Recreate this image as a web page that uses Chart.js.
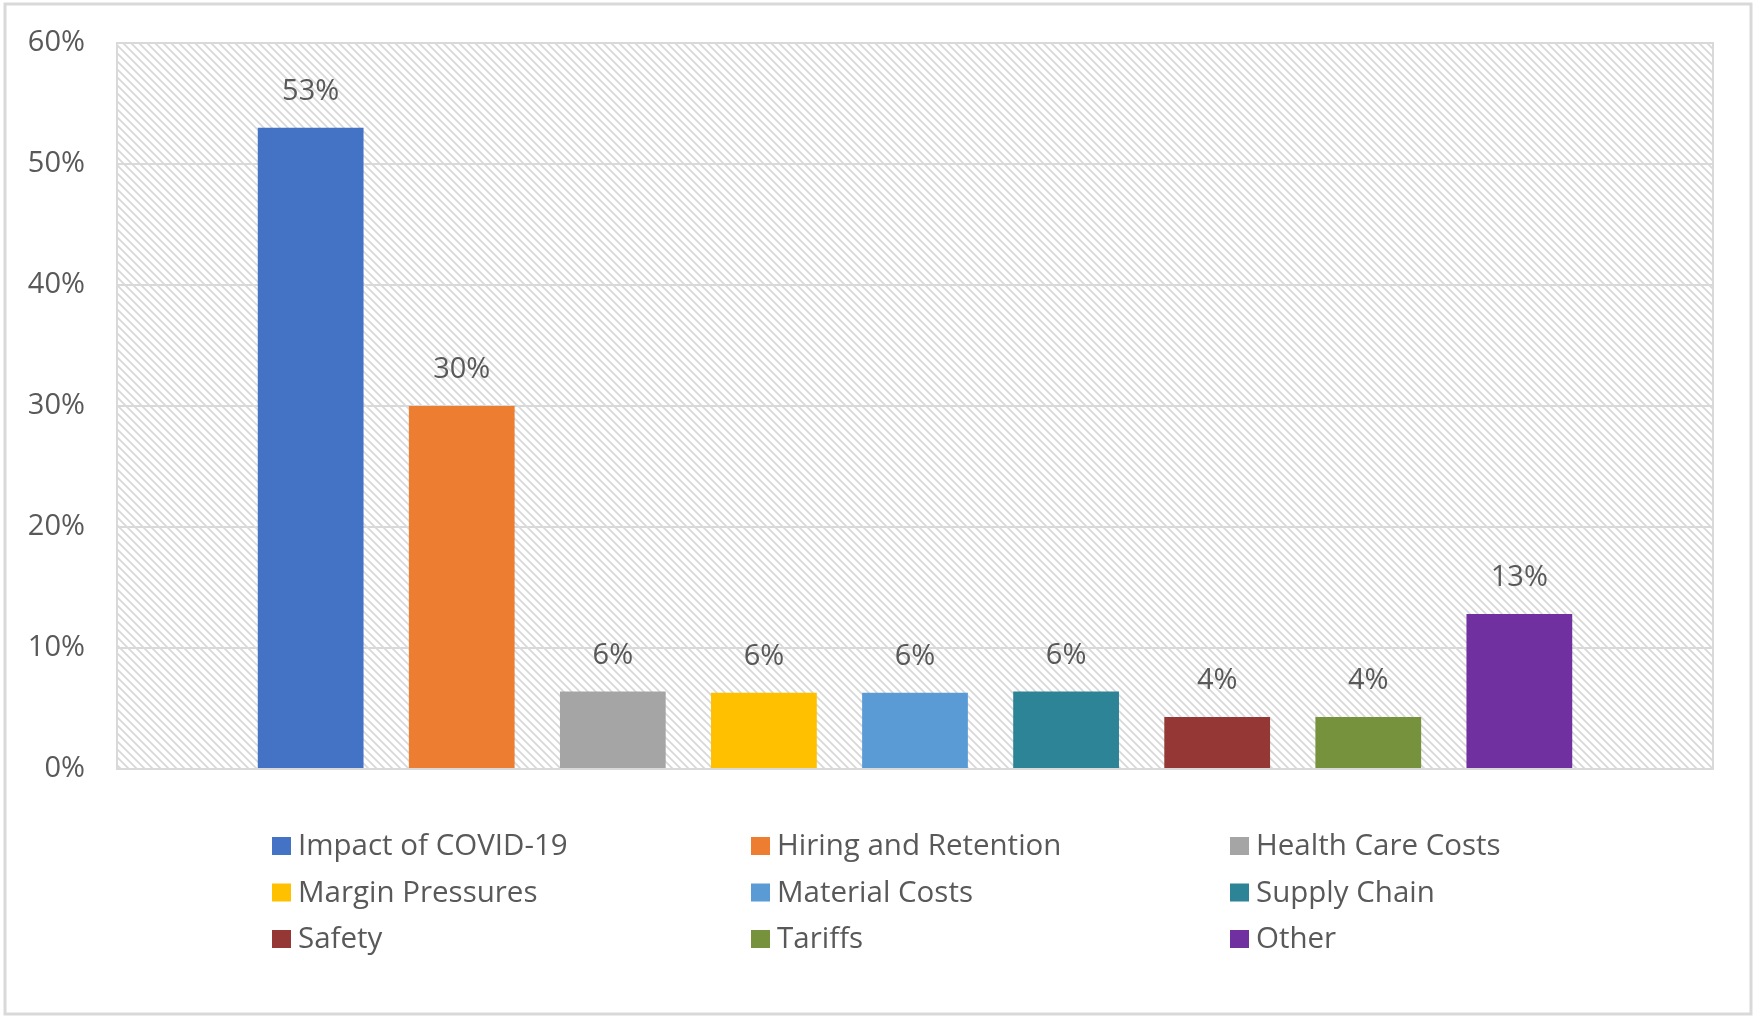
<!DOCTYPE html>
<html>
<head>
<meta charset="utf-8">
<title>Challenges</title>
<script src="https://cdn.jsdelivr.net/npm/chart.js@4.4.0/dist/chart.umd.min.js"></script>
<style>
    html, body { margin: 0; padding: 0; background: #ffffff; }
</style>
</head>
<body>
<canvas id="barChart" width="1755" height="1020"></canvas>
<script>
// chart data
const categories = [
    'Impact of COVID-19', 'Hiring and Retention', 'Health Care Costs',
    'Margin Pressures', 'Material Costs', 'Supply Chain',
    'Safety', 'Tariffs', 'Other'
];
const values = [53, 30, 6.4, 6.3, 6.3, 6.4, 4.3, 4.3, 12.8];
const barColors = [
    '#4472C4', '#ED7D31', '#A5A5A5',
    '#FFC000', '#5B9BD5', '#2E8497',
    '#953735', '#76923C', '#7030A0'
];
const yTicks = [0, 10, 20, 30, 40, 50, 60];

const textColor = '#595959';
const lineColor = '#D9D9D9';
const fontFamily = '"Open Sans", "DejaVu Sans", sans-serif';

const canvas = document.getElementById('barChart');
const ctx = canvas.getContext('2d');

// diagonal hatch used behind the bars
function makeHatch() {
    const tile = document.createElement('canvas');
    tile.width = 8;
    tile.height = 8;
    const g = tile.getContext('2d');
    g.fillStyle = '#ffffff';
    g.fillRect(0, 0, 8, 8);
    g.strokeStyle = '#d8d8d8';
    g.lineWidth = 1.8;
    g.beginPath();
    g.moveTo(-2, -2); g.lineTo(10, 10);
    g.moveTo(-2, 6); g.lineTo(2, 10);
    g.moveTo(6, -2); g.lineTo(10, 2);
    g.stroke();
    return ctx.createPattern(tile, 'repeat');
}
const hatch = makeHatch();

// page background, outer frame and hatched plot area
const backgroundPlugin = {
    id: 'background',
    beforeDraw(chart) {
        const c = chart.ctx;
        const a = chart.chartArea;
        c.save();
        c.fillStyle = '#ffffff';
        c.fillRect(0, 0, chart.width, chart.height);
        c.strokeStyle = lineColor;
        c.lineWidth = 3;
        c.strokeRect(5, 4, chart.width - 9, chart.height - 10);
        c.fillStyle = hatch;
        c.fillRect(a.left, a.top, a.right - a.left, a.bottom - a.top);
        c.restore();
    },
    beforeDatasetsDraw(chart) {
        const c = chart.ctx;
        const a = chart.chartArea;
        c.save();
        c.strokeStyle = lineColor;
        c.lineWidth = 2;
        c.strokeRect(a.left, a.top, a.right - a.left, a.bottom - a.top);
        c.restore();
    }
};

// percent labels above each bar
const valueLabelPlugin = {
    id: 'valueLabels',
    afterDatasetsDraw(chart) {
        const c = chart.ctx;
        c.save();
        c.font = '29px ' + fontFamily;
        c.fillStyle = textColor;
        c.textAlign = 'center';
        c.textBaseline = 'alphabetic';
        chart.data.datasets.forEach((ds, i) => {
            const bar = chart.getDatasetMeta(i).data[0];
            c.fillText(Math.round(ds.data[0]) + '%', bar.x, bar.y - 28);
        });
        c.restore();
    }
};

// legend in a 3 column grid under the plot
const gridLegendPlugin = {
    id: 'gridLegend',
    afterDraw(chart) {
        const c = chart.ctx;
        c.save();
        c.font = '29.5px ' + fontFamily;
        c.textBaseline = 'alphabetic';
        c.textAlign = 'left';
        chart.data.datasets.forEach((ds, i) => {
            const col = i % 3;
            const row = Math.floor(i / 3);
            const x = 272 + col * 479;
            const y = 837 + row * 46.5;
            c.fillStyle = ds.backgroundColor;
            c.fillRect(x, y, 19, 18);
            c.fillStyle = textColor;
            c.fillText(ds.label, x + 26, y + 18);
        });
        c.restore();
    }
};

const datasets = categories.map((name, i) => ({
    label: name,
    data: [values[i]],
    backgroundColor: barColors[i],
    borderWidth: 0,
    categoryPercentage: 0.852,
    barPercentage: 0.70
}));

const myBarChart = new Chart(ctx, {
    type: 'bar',
    data: {
        labels: [''],
        datasets: datasets
    },
    options: {
        responsive: false,
        animation: false,
        devicePixelRatio: 1,
        layout: {
            padding: { left: 0, top: 43, right: 42, bottom: 251 }
        },
        plugins: {
            legend: { display: false },
            tooltip: { enabled: false }
        },
        scales: {
            x: {
                display: false
            },
            y: {
                min: 0,
                max: 60,
                afterBuildTicks: (scale) => {
                    scale.ticks = yTicks.map(v => ({ value: v }));
                },
                afterFit: (scale) => {
                    scale.width = 117;
                },
                grid: {
                    color: lineColor,
                    lineWidth: 2,
                    drawTicks: true,
                    tickLength: 29,
                    tickColor: 'rgba(0,0,0,0)'
                },
                border: {
                    display: true,
                    color: lineColor,
                    width: 2
                },
                ticks: {
                    padding: 3,
                    color: textColor,
                    font: { family: fontFamily, size: 29 },
                    callback: (v) => v + '%'
                }
            }
        }
    },
    plugins: [backgroundPlugin, valueLabelPlugin, gridLegendPlugin]
});
</script>
</body>
</html>
